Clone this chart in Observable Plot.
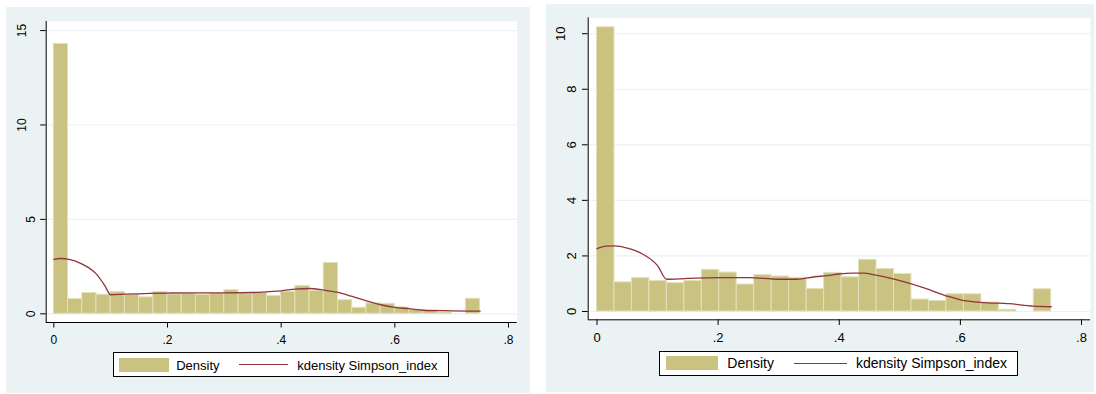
<!DOCTYPE html>
<html>
<head>
<meta charset="utf-8">
<script src="https://cdn.jsdelivr.net/npm/d3@7"></script>
<script src="https://cdn.jsdelivr.net/npm/@observablehq/plot@0.6"></script>
<style>
  html, body { margin: 0; padding: 0; background: #ffffff; width: 1096px; height: 394px; overflow: hidden; }
  body { font-family: "Liberation Sans", Arial, Helvetica, sans-serif; position: relative; }
  .panel { position: absolute; background: rgb(234,242,243); }
  .panel svg { position: absolute; left: 0; top: 0; }
  .legend { position: absolute; background: #fff; border: 1px solid #000; box-sizing: border-box; }
  .legend .sw { position: absolute; }
  .legend .ln { position: absolute; height: 0; border-top: 1.3px solid rgb(144,53,59); }
  .legend .tx { position: absolute; white-space: nowrap; color: #000; transform: translateY(-50%); }
</style>
</head>
<body>
<div id="left" class="panel"></div>
<div id="right" class="panel"></div>
<script>
// ---------------- data ----------------
// Left histogram: 30 bins of width 0.025 starting at 0 (density)
const leftBinStart = 0;
const leftBinWidth = 0.025;
const leftDensity = [14.29, 0.78, 1.10, 1.01, 1.15, 0.99, 0.87, 1.15, 1.02, 1.06,
                     1.01, 1.08, 1.25, 1.04, 1.11, 0.95, 1.17, 1.48, 1.22, 2.69,
                     0.72, 0.32, 0.55, 0.53, 0.34, 0.21, 0.16, 0.07, 0, 0.80];
// Left kernel density (x, y)
const leftKdX = [0, 0.0125, 0.025, 0.05, 0.075, 0.09, 0.1, 0.125, 0.2, 0.3, 0.35, 0.38, 0.4,
                 0.425, 0.45, 0.475, 0.5, 0.525, 0.55, 0.575, 0.6, 0.625, 0.65, 0.7, 0.75];
const leftKdY = [2.88, 2.93, 2.90, 2.63, 2.10, 1.48, 1.01, 1.04, 1.10, 1.11, 1.13, 1.18, 1.22,
                 1.31, 1.34, 1.26, 1.13, 0.92, 0.69, 0.48, 0.34, 0.27, 0.19, 0.16, 0.14];
const leftYTicks = [0, 5, 10, 15];

// Right histogram: 26 bins covering 0 .. 0.75
const rightBinStart = 0;
const rightBinWidth = 0.75 / 26;
const rightDensity = [10.23, 1.05, 1.20, 1.10, 1.02, 1.10, 1.50, 1.40, 0.97, 1.31,
                      1.26, 1.21, 0.81, 1.39, 1.23, 1.86, 1.53, 1.35, 0.43, 0.38,
                      0.62, 0.62, 0.32, 0.06, 0, 0.80];
const rightKdX = [0, 0.015, 0.03, 0.05, 0.075, 0.1, 0.115, 0.15, 0.2, 0.25, 0.3, 0.33, 0.36, 0.38,
                  0.4, 0.42, 0.44, 0.46, 0.5, 0.54, 0.58, 0.6, 0.64, 0.68, 0.72, 0.75];
const rightKdY = [2.26, 2.35, 2.36, 2.28, 2.07, 1.65, 1.16, 1.19, 1.22, 1.22, 1.16, 1.16, 1.25, 1.29,
                  1.35, 1.38, 1.38, 1.31, 1.11, 0.85, 0.54, 0.42, 0.32, 0.28, 0.19, 0.17];
const rightYTicks = [0, 2, 4, 6, 8, 10];

const xTicks = [0, 0.2, 0.4, 0.6, 0.8];
const legendLabels = ["Density", "kdensity Simpson_index"];

// ---------------- styles ----------------
const BAR_FILL = "rgb(201,194,128)";
const BAR_STROKE = "rgb(228,224,186)";
const LINE_COLOR = "rgb(144,53,59)";
const GRID_COLOR = "rgb(234,242,243)";
const FONT = "'Liberation Sans', Arial, Helvetica, sans-serif";

const fmtX = d => d === 0 ? "0" : String(d).replace(/^0/, "");

function drawPanel(el, cfg) {
  el.style.left = cfg.box[0] + "px";
  el.style.top = cfg.box[1] + "px";
  el.style.width = cfg.box[2] + "px";
  el.style.height = cfg.box[3] + "px";

  const bins = cfg.density.map((v, i) => ({
    x1: cfg.binStart + i * cfg.binWidth,
    x2: cfg.binStart + (i + 1) * cfg.binWidth,
    y: v
  }));
  const kd = cfg.kdX.map((x, i) => ({x, y: cfg.kdY[i]}));
  const single = cfg.yTicks.filter(d => d < 10);
  const double = cfg.yTicks.filter(d => d >= 10);

  const svg = Plot.plot({
    width: cfg.box[2],
    height: cfg.svgHeight,
    marginLeft: cfg.margins[0],
    marginRight: cfg.margins[1],
    marginTop: cfg.margins[2],
    marginBottom: cfg.margins[3],
    style: {background: "transparent", fontFamily: FONT, fontSize: cfg.fontSize + "px", color: "#000"},
    x: {domain: cfg.xDomain, label: null},
    y: {domain: cfg.yDomain, label: null},
    marks: [
      Plot.frame({fill: "white", stroke: null}),
      Plot.gridY(cfg.yTicks, {stroke: GRID_COLOR, strokeOpacity: 1, strokeWidth: 1.2}),
      Plot.rectY(bins, {x1: "x1", x2: "x2", y: "y", fill: BAR_FILL, stroke: BAR_STROKE, strokeWidth: 1, filter: d => d.y > 0}),
      Plot.line(kd, {x: "x", y: "y", stroke: LINE_COLOR, strokeWidth: 1.3, curve: "monotone-x"}),
      Plot.ruleX([cfg.xDomain[0]], {stroke: "#000", strokeWidth: 1}),
      Plot.ruleY([cfg.yDomain[0]], {stroke: "#000", strokeWidth: 1}),
      Plot.axisX(xTicks, {tickFormat: fmtX, tickSize: cfg.tickSize, tickPadding: cfg.xPad, fontSize: cfg.fontSize, stroke: "#000", label: null}),
      Plot.axisY(single, {tickRotate: -90, tickSize: cfg.tickSize, tickPadding: cfg.yPad1, fontSize: cfg.fontSize, tickFormat: d => String(d), label: null}),
      Plot.axisY(double, {tickRotate: -90, tickSize: cfg.tickSize, tickPadding: cfg.yPad2, fontSize: cfg.fontSize, tickFormat: d => String(d), label: null})
    ]
  });
  el.appendChild(svg);

  // legend
  const L = cfg.legend;
  const lg = document.createElement("div");
  lg.className = "legend";
  lg.style.left = L.box[0] + "px";
  lg.style.top = L.box[1] + "px";
  lg.style.width = L.box[2] + "px";
  lg.style.height = L.box[3] + "px";
  lg.style.fontSize = L.fontSize + "px";
  const sw = document.createElement("div");
  sw.className = "sw";
  sw.style.background = BAR_FILL;
  sw.style.left = L.swatch[0] + "px";
  sw.style.top = L.swatch[1] + "px";
  sw.style.width = L.swatch[2] + "px";
  sw.style.height = L.swatch[3] + "px";
  lg.appendChild(sw);
  const t1 = document.createElement("div");
  t1.className = "tx";
  t1.textContent = legendLabels[0];
  t1.style.left = L.text1 + "px";
  t1.style.top = L.mid + "px";
  lg.appendChild(t1);
  const ln = document.createElement("div");
  ln.className = "ln";
  ln.style.left = L.line[0] + "px";
  ln.style.width = L.line[1] + "px";
  ln.style.top = (L.mid - 0.6) + "px";
  lg.appendChild(ln);
  const t2 = document.createElement("div");
  t2.className = "tx";
  t2.textContent = legendLabels[1];
  t2.style.left = L.text2 + "px";
  t2.style.top = L.mid + "px";
  lg.appendChild(t2);
  el.appendChild(lg);
}

drawPanel(document.getElementById("left"), {
  box: [6, 7, 524, 386],
  svgHeight: 340,
  margins: [39.7, 13.3, 14, 25],
  xDomain: [-0.0134, 0.8153],
  yDomain: [-0.46, 15.48],
  density: leftDensity, binStart: leftBinStart, binWidth: leftBinWidth,
  kdX: leftKdX, kdY: leftKdY, yTicks: leftYTicks,
  fontSize: 12, tickSize: 5.5, xPad: 7.5, yPad1: 6, yPad2: 15,
  legend: {box: [106.7, 345.3, 336, 25], fontSize: 13, swatch: [5, 4.7, 50, 14], text1: 62.5, mid: 11.5, line: [125.5, 49], text2: 183.5}
});

drawPanel(document.getElementById("right"), {
  box: [546, 4, 548, 388],
  svgHeight: 340,
  margins: [41.7, 4, 13.3, 24.7],
  xDomain: [-0.01453, 0.81486],
  yDomain: [-0.299, 10.572],
  density: rightDensity, binStart: rightBinStart, binWidth: rightBinWidth,
  kdX: rightKdX, kdY: rightKdY, yTicks: rightYTicks,
  fontSize: 13, tickSize: 5.7, xPad: 7.7, yPad1: 6.5, yPad2: 17.5,
  legend: {box: [113.3, 346.7, 358.4, 25], fontSize: 14, swatch: [5.4, 4.3, 52.6, 14], text1: 67, mid: 11.5, line: [133.7, 53], text2: 195.7}
});
</script>
</body>
</html>
